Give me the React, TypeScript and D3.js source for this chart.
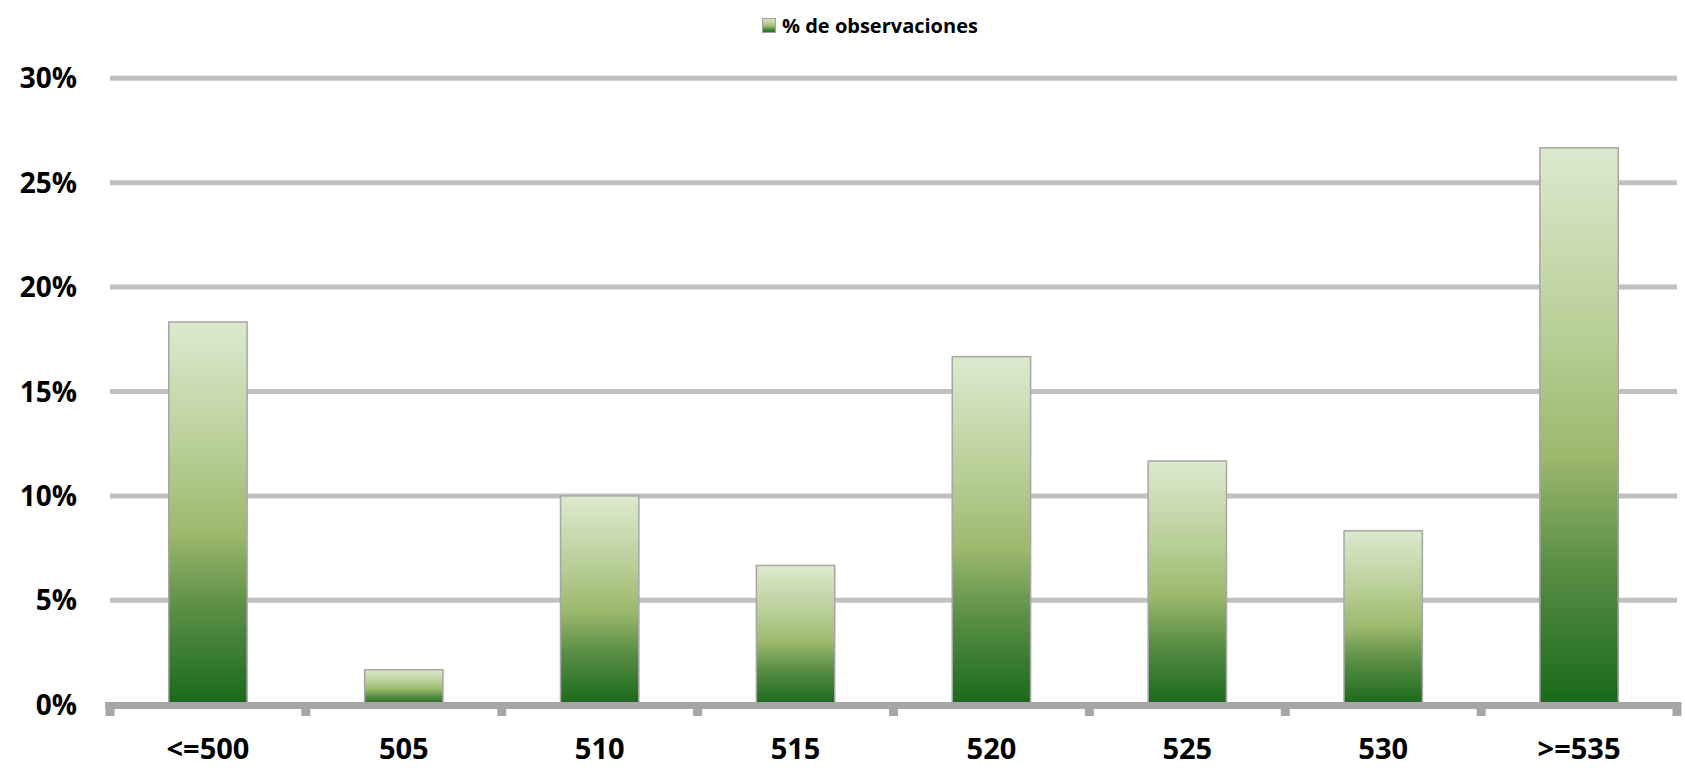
import * as d3 from 'd3'

const categories = ['<=500', '505', '510', '515', '520', '525', '530', '>=535']
const observaciones = [0.1833, 0.0167, 0.1, 0.0667, 0.1667, 0.1167, 0.0833, 0.2667]
const yTicks = [0, 0.05, 0.1, 0.15, 0.2, 0.25, 0.3]
const seriesName = '% de observaciones'

const width = 1685
const height = 772
const left = 110
const right = 1677
const top = 78.3
const bottom = 704.7

export default function App() {
  const x = d3.scaleBand<string>()
    .domain(categories)
    .range([left, right])
    .paddingInner(0.6)
    .paddingOuter(0.3)

  const y = d3.scaleLinear()
    .domain([0, 0.3])
    .range([bottom, top])

  const step = x.step()
  const fmt = d3.format('.0%')
  const font = '"Open Sans", sans-serif'

  return (
    <svg
      width={width}
      height={height}
      style={{ position: 'absolute', left: 0, top: 0, background: '#fff' }}
    >
      <defs>
        <linearGradient id="barGrad" x1="0" y1="0" x2="0" y2="1">
          <stop offset="0" stopColor="#dde9cf" />
          <stop offset="0.35" stopColor="#b6cd94" />
          <stop offset="0.55" stopColor="#9db96d" />
          <stop offset="0.75" stopColor="#5a8e45" />
          <stop offset="1" stopColor="#18691a" />
        </linearGradient>
      </defs>

      {/* legend */}
      <rect x={762.5} y={18.5} width={13} height={14} fill="url(#barGrad)" stroke="#a0a0a0" strokeWidth={1} />
      <text x={782} y={33} fontFamily={font} fontWeight="bold" fontSize={20} fill="#000">
        {seriesName}
      </text>

      {/* gridlines */}
      {yTicks.filter(t => t > 0).map(t => (
        <line key={t} x1={left} x2={right} y1={y(t)} y2={y(t)} stroke="#c0c0c0" strokeWidth={5} />
      ))}

      {/* y labels */}
      {yTicks.map(t => (
        <text
          key={'l' + t}
          x={77}
          y={y(t)}
          dy="0.36em"
          textAnchor="end"
          fontFamily={font}
          fontWeight="bold"
          fontSize={28}
          fill="#000"
        >
          {fmt(t)}
        </text>
      ))}

      {/* bars */}
      {categories.map((c, i) => (
        <rect
          key={c}
          x={x(c)}
          y={y(observaciones[i])}
          width={x.bandwidth()}
          height={bottom - y(observaciones[i])}
          fill="url(#barGrad)"
          stroke="#a6a6a6"
          strokeWidth={1.5}
        />
      ))}

      {/* x axis */}
      <line x1={105} x2={1681} y1={705.5} y2={705.5} stroke="#a6a6a6" strokeWidth={7} />
      {d3.range(categories.length + 1).map(i => (
        <rect key={'t' + i} x={left + i * step - 4.5} y={702} width={9} height={14} fill="#a6a6a6" />
      ))}

      {/* x labels */}
      {categories.map(c => (
        <text
          key={'x' + c}
          x={(x(c) ?? 0) + x.bandwidth() / 2}
          y={759}
          textAnchor="middle"
          fontFamily={font}
          fontWeight="bold"
          fontSize={29}
          fill="#000"
        >
          {c}
        </text>
      ))}
    </svg>
  )
}
